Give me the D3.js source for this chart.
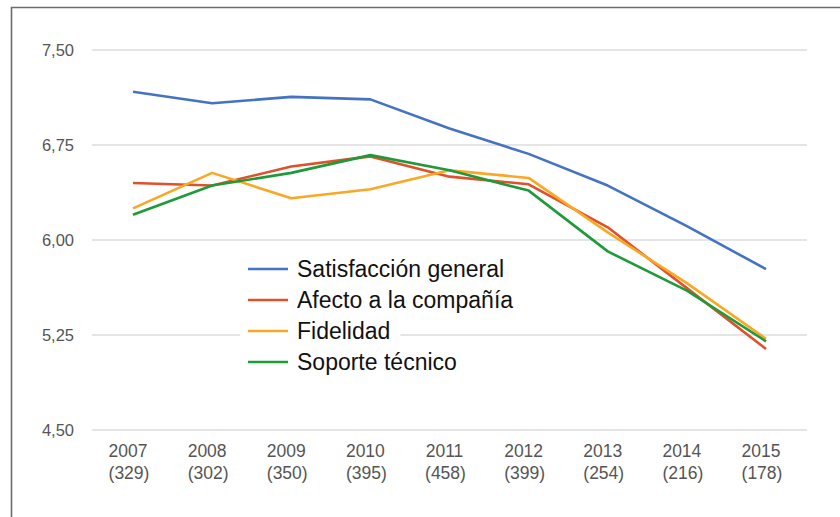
<!DOCTYPE html>
<html>
<head>
<meta charset="utf-8">
<script src="https://cdn.jsdelivr.net/npm/d3@7"></script>
<style>
  body { margin: 0; background: #fff; }
  svg { display: block; font-family: "Liberation Sans", Arial, sans-serif; }
</style>
</head>
<body>
<svg id="chart" width="840" height="517"></svg>
<script>
// data
const years = ["2007", "2008", "2009", "2010", "2011", "2012", "2013", "2014", "2015"];
const counts = ["(329)", "(302)", "(350)", "(395)", "(458)", "(399)", "(254)", "(216)", "(178)"];
const yTicks = [4.5, 5.25, 6.0, 6.75, 7.5];

const satisfaccion = [7.17, 7.08, 7.13, 7.11, 6.88, 6.68, 6.43, 6.11, 5.77];
const afecto = [6.45, 6.43, 6.58, 6.66, 6.50, 6.44, 6.10, 5.62, 5.14];
const fidelidad = [6.25, 6.53, 6.33, 6.40, 6.55, 6.49, 6.06, 5.66, 5.22];
const soporte = [6.20, 6.43, 6.53, 6.67, 6.55, 6.39, 5.91, 5.60, 5.20];

const seriesNames = ["Satisfacción general", "Afecto a la compañía", "Fidelidad", "Soporte técnico"];
const seriesColors = ["#4472c4", "#e0502a", "#f9a825", "#1e9a3a"];
const seriesValues = [satisfaccion, afecto, fidelidad, soporte];

const svg = d3.select("#chart");

// outer frame (only left and top edges show)
svg.append("path")
  .attr("d", "M11.5,520 L11.5,7.5 L845,7.5")
  .attr("fill", "none")
  .attr("stroke", "#6b6b6b")
  .attr("stroke-width", 1.6);

const x = d3.scalePoint().domain(years).range([133, 766]);
const y = d3.scaleLinear().domain([4.5, 7.5]).range([430, 50]);

// gridlines
svg.append("g")
  .selectAll("line")
  .data(yTicks)
  .join("line")
  .attr("x1", 92)
  .attr("x2", 807)
  .attr("y1", d => y(d))
  .attr("y2", d => y(d))
  .attr("stroke", "#dcdcdc")
  .attr("stroke-width", 1.3);

// y labels
svg.append("g")
  .selectAll("text")
  .data(yTicks)
  .join("text")
  .attr("x", 74)
  .attr("y", d => y(d) + 6)
  .attr("text-anchor", "end")
  .attr("font-size", 16.5)
  .attr("fill", "#555")
  .text(d => d3.format(".2f")(d).replace(".", ","));

// x labels (sit a little left of the points, as in the original)
const xl = svg.append("g")
  .selectAll("text")
  .data(years)
  .join("text")
  .attr("text-anchor", "middle")
  .attr("font-size", 17.5)
  .attr("fill", "#555");
xl.append("tspan").attr("x", d => x(d) - 5).attr("y", 457).text(d => d);
xl.append("tspan").attr("x", d => x(d) - 4).attr("y", 479).text((d, i) => counts[i]);

// lines
const line = d3.line()
  .x((d, i) => x(years[i]))
  .y(d => y(d));

svg.append("g")
  .selectAll("path")
  .data(seriesValues)
  .join("path")
  .attr("d", d => line(d))
  .attr("fill", "none")
  .attr("stroke", (d, i) => seriesColors[i])
  .attr("stroke-width", 2.6)
  .attr("stroke-linejoin", "round");

// legend
const legend = svg.append("g");
const rows = legend.selectAll("g")
  .data(seriesNames)
  .join("g")
  .attr("transform", (d, i) => `translate(248,${269 + i * 31})`);

rows.append("rect")
  .attr("x", -8)
  .attr("y", -13)
  .attr("height", 26)
  .attr("fill", "#fff");

rows.append("line")
  .attr("x1", 0)
  .attr("x2", 40)
  .attr("stroke", (d, i) => seriesColors[i])
  .attr("stroke-width", 2.6);

rows.append("text")
  .attr("x", 49)
  .attr("y", 8)
  .attr("font-size", 23)
  .attr("fill", "#111")
  .text(d => d);

rows.each(function() {
  const g = d3.select(this);
  const w = g.select("text").node().getComputedTextLength();
  g.select("rect").attr("width", 49 + w + 18);
});
</script>
</body>
</html>
